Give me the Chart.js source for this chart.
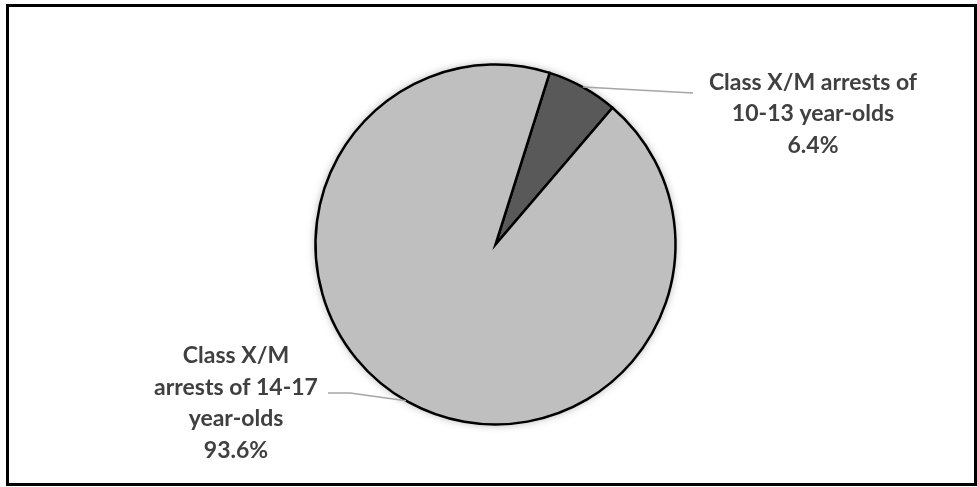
<!DOCTYPE html>
<html>
    <head>
        <script src="https://cdn.jsdelivr.net/npm/chart.js"></script>
        <title>Class X/M arrests</title>
        <style>
            body { margin: 0; background: #fff; }
            #frame { position: absolute; left: 6px; top: 4px; width: 965px; height: 476px; border: 3px solid #000; }
            #chartWrapper { position: absolute; left: 0; top: 0; width: 977px; height: 487px; }
        </style>
    </head>
    <body>
        <div id="chartWrapper">
            <canvas id="myChart" width="977" height="487"></canvas>
        </div>
        <div id="frame"></div>

        <script>
            // slice data
            const categories = ['Class X/M arrests of 10-13 year-olds', 'Class X/M arrests of 14-17 year-olds'];
            const shares = [6.4, 93.6];
            const sliceColors = ['#595959', '#bfbfbf'];

            // label text, line by line
            const labelLines = [
                ['Class X/M arrests of', '10-13 year-olds', '6.4%'],
                ['Class X/M', 'arrests of 14-17', 'year-olds', '93.6%']
            ];
            // where each label sits (center of the text block) and where its leader line ends
            const labelBoxes = [
                {x: 813, y: 114, lineEnd: [693, 93], elbow: null},
                {x: 236, y: 403, lineEnd: [328, 393], elbow: [350, 393]}
            ];

            const pieShadow = {
                id: 'pieShadow',
                beforeDatasetsDraw(chart) {
                    const arc = chart.getDatasetMeta(0).data[0];
                    const c = chart.ctx;
                    c.save();
                    c.shadowColor = 'rgba(0,0,0,0.35)';
                    c.shadowBlur = 9;
                    c.fillStyle = '#fff';
                    c.beginPath();
                    c.arc(arc.x, arc.y, arc.outerRadius, 0, Math.PI * 2);
                    c.fill();
                    c.restore();
                }
            };

            const pieLabels = {
                id: 'pieLabels',
                afterDraw(chart) {
                    const c = chart.ctx;
                    const meta = chart.getDatasetMeta(0);
                    meta.data.forEach(function (arc, i) {
                        const mid = (arc.startAngle + arc.endAngle) / 2;
                        const box = labelBoxes[i];
                        let sx = arc.x + Math.cos(mid) * arc.outerRadius;
                        let sy = arc.y + Math.sin(mid) * arc.outerRadius;
                        if (i == 1) {
                            // big slice: leader starts at lower-left edge
                            const a = Math.PI * 0.5 + 0.52;
                            sx = arc.x + Math.cos(a) * arc.outerRadius;
                            sy = arc.y + Math.sin(a) * arc.outerRadius;
                        }
                        c.save();
                        c.strokeStyle = '#a6a6a6';
                        c.lineWidth = 1.5;
                        c.beginPath();
                        c.moveTo(sx, sy);
                        if (box.elbow) c.lineTo(box.elbow[0], box.elbow[1]);
                        c.lineTo(box.lineEnd[0], box.lineEnd[1]);
                        c.stroke();

                        c.fillStyle = '#404040';
                        c.font = 'bold 23px Lato';
                        c.textAlign = 'center';
                        c.textBaseline = 'middle';
                        const lines = labelLines[i];
                        const lh = 31.7;
                        const top = box.y - (lines.length - 1) * lh / 2;
                        lines.forEach(function (t, k) {
                            c.fillText(t, box.x, top + k * lh);
                        });
                        c.restore();
                    });
                }
            };

            const ctx = document.getElementById('myChart').getContext('2d');
            const myChart = new Chart(ctx, {
                type: 'pie',
                plugins: [pieShadow, pieLabels],
                data: {
                    labels: categories,
                    datasets: [{
                        data: shares,
                        backgroundColor: sliceColors,
                        borderColor: '#000',
                        borderWidth: 2.5,
                        borderJoinStyle: 'miter',
                        hoverOffset: 0
                    }]
                },
                options: {
                    responsive: false,
                    animation: false,
                    rotation: 17.5,
                    radius: 180,
                    layout: { padding: { left: 14, right: 0, top: 2, bottom: 0 } },
                    plugins: {
                        legend: { display: false },
                        tooltip: { enabled: false }
                    }
                }
            });
        </script>
    </body>
</html>
